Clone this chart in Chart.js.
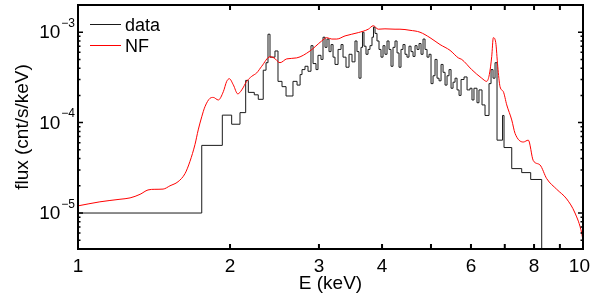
<!DOCTYPE html>
<html>
<head>
<meta charset="utf-8">
<script src="https://cdn.jsdelivr.net/npm/chart.js@4.4.0/dist/chart.umd.min.js"></script>
<style>
  html, body { margin: 0; padding: 0; background: #fff; }
</style>
</head>
<body>
<canvas id="myChart" width="598" height="297"></canvas>
<script>
"use strict";
// observed spectrum: left bin edges (keV) and flux (cnt/s/keV)
const dataE = [1.0, 1.758, 1.931, 2.015, 2.093, 2.148, 2.174, 2.234, 2.275, 2.327,
  2.357, 2.378, 2.400, 2.455, 2.489, 2.535, 2.582, 2.665, 2.715, 2.753,
  2.777, 2.815, 2.854, 2.893, 2.920, 2.960, 2.987, 3.028, 3.056, 3.084,
  3.112, 3.141, 3.170, 3.199, 3.228, 3.273, 3.318, 3.348, 3.394, 3.441,
  3.488, 3.536, 3.568, 3.601, 3.634, 3.659, 3.684, 3.718, 3.752, 3.786,
  3.821, 3.847, 3.874, 3.909, 3.945, 3.981, 4.018, 4.054, 4.092, 4.129,
  4.167, 4.205, 4.244, 4.283, 4.322, 4.361, 4.401, 4.442, 4.482, 4.523,
  4.565, 4.607, 4.649, 4.692, 4.735, 4.778, 4.822, 4.866, 4.911, 4.956,
  5.001, 5.047, 5.093, 5.140, 5.187, 5.235, 5.283, 5.331, 5.380, 5.429,
  5.479, 5.529, 5.580, 5.631, 5.683, 5.735, 5.814, 5.894, 5.973, 6.028,
  6.083, 6.167, 6.223, 6.310, 6.397, 6.515, 6.575, 6.635, 6.696, 6.757,
  6.929, 6.976, 7.226, 7.562, 7.878, 8.284];
const dataFlux = [1.0e-5, 5.6e-5, 1.21e-4, 9.6e-5, 1.29e-4, 2.93e-4, 2.16e-4, 2.03e-4, 1.81e-4, 3.8e-4,
  4.6e-4, 9.5e-4, 5.3e-4, 6.2e-4, 2.86e-4, 2.5e-4, 1.97e-4, 2.86e-4, 2.6e-4, 3.4e-4,
  3.86e-4, 4.2e-4, 3.7e-4, 7.1e-4, 4.5e-4, 3.86e-4, 5.55e-4, 5.0e-4, 8.8e-4, 6.8e-4,
  8.4e-4, 6.1e-4, 7.3e-4, 5.3e-4, 4.4e-4, 6.45e-4, 7.3e-4, 5.3e-4, 4.1e-4, 5.7e-4,
  4.7e-4, 8.0e-4, 6.1e-4, 3.1e-4, 6.8e-4, 1.0e-3, 7.0e-4, 5.7e-4, 6.45e-4, 7.1e-4,
  8.8e-4, 1.14e-3, 9.7e-4, 8.0e-4, 6.45e-4, 5.3e-4, 7.1e-4, 5.7e-4, 8.0e-4, 6.45e-4,
  4.2e-4, 6.8e-4, 8.0e-4, 5.9e-4, 4.1e-4, 6.45e-4, 7.3e-4, 5.7e-4, 5.3e-4, 7.0e-4,
  6.1e-4, 5.4e-4, 7.1e-4, 6.45e-4, 7.5e-4, 5.7e-4, 8.4e-4, 6.45e-4, 5.3e-4, 5.7e-4,
  2.7e-4, 3.3e-4, 5.0e-4, 3.1e-4, 2.9e-4, 4.4e-4, 3.6e-4, 2.6e-4, 3.3e-4, 3.86e-4,
  2.4e-4, 2.8e-4, 3.1e-4, 2.3e-4, 2.0e-4, 3.0e-4, 3.2e-4, 2.3e-4, 2.4e-4, 1.78e-4,
  2.4e-4, 1.66e-4, 2.3e-4, 1.57e-4, 1.2e-4, 2.7e-4, 3.86e-4, 3.1e-4, 4.6e-4, 6.4e-5,
  1.2e-4, 5.3e-5, 3.1e-5, 2.8e-5, 2.35e-5, 1e-7];

// NF model curve
const nfE = [1.0, 1.105, 1.211, 1.268, 1.327, 1.376, 1.420, 1.474, 1.521, 1.578,
  1.629, 1.666, 1.705, 1.730, 1.758, 1.784, 1.826, 1.853, 1.896, 1.940,
  1.970, 1.994, 2.030, 2.072, 2.110, 2.158, 2.208, 2.259, 2.311, 2.400,
  2.444, 2.512, 2.590, 2.711, 2.880, 3.038, 3.109, 3.181, 3.254, 3.379,
  3.590, 3.757, 3.843, 3.932, 4.054, 4.244, 4.341, 4.544, 4.756, 4.978,
  5.211, 5.454, 5.664, 5.753, 6.020, 6.302, 6.447, 6.524, 6.596, 6.644,
  6.717, 6.779, 6.850, 6.954, 7.063, 7.226, 7.336, 7.617, 7.793, 7.972,
  8.220, 8.475, 8.871, 9.284, 9.642, 9.941, 10.0];
const nfFlux = [1.2e-5, 1.33e-5, 1.42e-5, 1.47e-5, 1.61e-5, 1.8e-5, 1.83e-5, 1.84e-5, 2.0e-5, 2.22e-5,
  2.73e-5, 3.72e-5, 5.75e-5, 8.3e-5, 1.16e-4, 1.5e-4, 1.86e-4, 1.9e-4, 1.78e-4, 2.2e-4,
  2.86e-4, 3.06e-4, 2.62e-4, 2.08e-4, 2.3e-4, 2.86e-4, 3.25e-4, 3.55e-4, 4.2e-4, 5.35e-4,
  5.2e-4, 4.6e-4, 5.07e-4, 5.2e-4, 6.2e-4, 8.0e-4, 8.7e-4, 8.4e-4, 8.4e-4, 9.1e-4,
  9.9e-4, 1.08e-3, 1.18e-3, 1.08e-3, 1.09e-3, 1.08e-3, 1.08e-3, 1.05e-3, 1.0e-3, 8.7e-4,
  7.3e-4, 6.3e-4, 5.2e-4, 5.0e-4, 3.86e-4, 3.1e-4, 2.86e-4, 3.4e-4, 5.4e-4, 8.7e-4,
  7.7e-4, 4.2e-4, 2.5e-4, 2.2e-4, 1.57e-4, 1.07e-4, 7.6e-5, 6.1e-5, 6.4e-5, 3.8e-5,
  3.4e-5, 2.4e-5, 1.83e-5, 1.43e-5, 1.0e-5, 6.0e-6, 4.9e-6];

// axes
const xRange = [1, 10];
const yRange = [4e-6, 2e-3];
const xTicks = [1, 2, 3, 4, 5, 6, 7, 8, 9, 10];
const xTickLabels = ["1", "2", "3", "4", "", "6", "", "8", "", "10"];
const yTicks = [1e-5, 1e-4, 1e-3];
const yTickExps = ["\u22125", "\u22124", "\u22123"];

const FONT = '"Liberation Sans", Arial, Helvetica, sans-serif';

const toPoints = (xs, ys) => xs.map((e, i) => ({ x: e, y: ys[i] }));

// frame, inward ticks, tick labels and legend drawn on top of the plot
const axesPlugin = {
  id: "axesFrame",
  afterDatasetsDraw(chart) {
    const { ctx, chartArea: a } = chart;
    const xs = chart.scales.x;
    const ys = chart.scales.y;
    ctx.save();
    ctx.strokeStyle = "#000";
    ctx.fillStyle = "#000";

    ctx.lineWidth = 2;
    ctx.beginPath();
    xTicks.forEach((v) => {
      const px = xs.getPixelForValue(v);
      ctx.moveTo(px, a.bottom);
      ctx.lineTo(px, a.bottom - 5);
      ctx.moveTo(px, a.top);
      ctx.lineTo(px, a.top + 5);
    });
    ctx.stroke();

    ctx.lineWidth = 1.5;
    ctx.beginPath();
    for (let d = -6; d <= -3; d++) {
      for (let m = 1; m <= 9; m++) {
        const v = m * Math.pow(10, d);
        if (v < yRange[0] * 0.999 || v > yRange[1] * 1.001) continue;
        const py = ys.getPixelForValue(v);
        const len = m === 1 ? 5 : 2.5;
        ctx.moveTo(a.left, py);
        ctx.lineTo(a.left + len, py);
        ctx.moveTo(a.right, py);
        ctx.lineTo(a.right - len, py);
      }
    }
    ctx.stroke();

    ctx.lineWidth = 2;
    ctx.strokeRect(a.left, a.top, a.right - a.left, a.bottom - a.top);

    // x tick labels
    ctx.font = "19px " + FONT;
    ctx.textAlign = "center";
    ctx.textBaseline = "alphabetic";
    xTicks.forEach((v, i) => {
      const lab = xTickLabels[i];
      if (!lab) return;
      const w = ctx.measureText(lab).width;
      const cx = Math.min(xs.getPixelForValue(v), 590 - w / 2);
      ctx.fillText(lab, cx, 272);
    });

    // y tick labels 10^n
    ctx.textAlign = "right";
    ctx.textBaseline = "middle";
    yTicks.forEach((v, i) => {
      const py = ys.getPixelForValue(v);
      ctx.font = "12px " + FONT;
      const ew = ctx.measureText(yTickExps[i]).width;
      ctx.fillText(yTickExps[i], a.left - 3, py - 8.5);
      ctx.font = "19px " + FONT;
      ctx.fillText("10", a.left - 4 - ew, py + 1);
    });

    // legend
    ctx.font = "18px " + FONT;
    ctx.textAlign = "left";
    ctx.textBaseline = "alphabetic";
    chart.data.datasets.forEach((ds, i) => {
      const ly = a.top + 19 + i * 21;
      ctx.strokeStyle = ds.borderColor;
      ctx.lineWidth = 1;
      ctx.beginPath();
      ctx.moveTo(a.left + 12, ly + 0.5);
      ctx.lineTo(a.left + 43, ly + 0.5);
      ctx.stroke();
      ctx.fillText(ds.label, a.left + 47, ly + 6.5);
    });
    ctx.restore();
  },
};

const ctx = document.getElementById("myChart").getContext("2d");
const myChart = new Chart(ctx, {
  type: "line",
  data: {
    datasets: [
      {
        label: "data",
        data: toPoints(dataE, dataFlux),
        borderColor: "#1a1a1a",
        borderWidth: 1,
        stepped: true,
        pointRadius: 0,
        fill: false,
        order: 2,
      },
      {
        label: "NF",
        data: toPoints(nfE, nfFlux),
        borderColor: "#ff0000",
        borderWidth: 1,
        cubicInterpolationMode: "monotone",
        pointRadius: 0,
        fill: false,
        order: 1,
      },
    ],
  },
  options: {
    responsive: false,
    animation: false,
    layout: { padding: { left: 0, right: 15, top: 5, bottom: 0 } },
    plugins: {
      legend: { display: false },
      tooltip: { enabled: false },
    },
    scales: {
      x: {
        type: "logarithmic",
        min: xRange[0],
        max: xRange[1],
        grid: { display: false, drawTicks: false },
        border: { display: false },
        ticks: { display: false },
        title: {
          display: true,
          text: "E (keV)",
          color: "#000",
          font: { family: FONT, size: 19 },
          padding: { top: 0, bottom: 2 },
        },
        afterFit(scale) {
          scale.height = 48;
        },
      },
      y: {
        type: "logarithmic",
        min: yRange[0],
        max: yRange[1],
        grid: { display: false, drawTicks: false },
        border: { display: false },
        ticks: { display: false },
        title: {
          display: true,
          text: "flux (cnt/s/keV)",
          color: "#000",
          font: { family: FONT, size: 19 },
          padding: { top: 11, bottom: 0 },
        },
        afterFit(scale) {
          scale.width = 78;
        },
      },
    },
  },
  plugins: [axesPlugin],
});
</script>
</body>
</html>
